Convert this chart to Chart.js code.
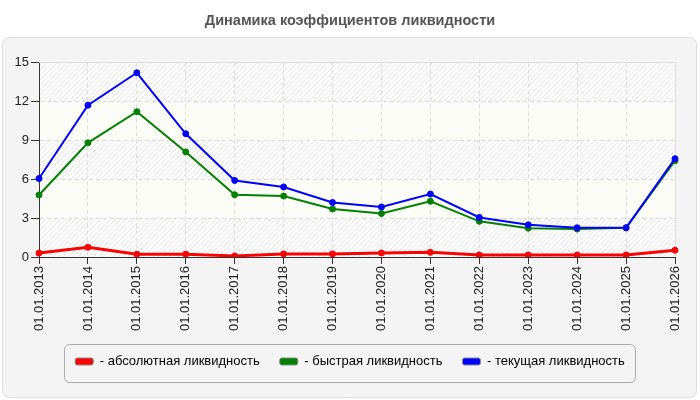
<!DOCTYPE html>
<html>
<head>
<meta charset="utf-8">
<script src="https://cdn.jsdelivr.net/npm/chart.js@4"></script>
<style>
body{margin:0;background:#fff;}
#wrap{width:700px;height:400px;}
</style>
</head>
<body>
<div id="wrap"><canvas id="liqChart"></canvas></div>
<script>
// даты отчётов
const dates = ['01.01.2013','01.01.2014','01.01.2015','01.01.2016','01.01.2017','01.01.2018','01.01.2019',
               '01.01.2020','01.01.2021','01.01.2022','01.01.2023','01.01.2024','01.01.2025','01.01.2026'];
const absLiq   = [0.3, 0.75, 0.22, 0.22, 0.08, 0.24, 0.24, 0.31, 0.36, 0.16, 0.16, 0.16, 0.16, 0.52];
const quickLiq = [4.78, 8.8, 11.2, 8.1, 4.8, 4.7, 3.7, 3.35, 4.3, 2.75, 2.22, 2.15, 2.25, 7.42];
const curLiq   = [6.05, 11.7, 14.2, 9.5, 5.9, 5.4, 4.2, 3.85, 4.85, 3.05, 2.48, 2.25, 2.25, 7.58];
const yTicks = [0, 3, 6, 9, 12, 15];
const seriesNames = ['- абсолютная ликвидность', '- быстрая ликвидность', '- текущая ликвидность'];
const seriesColors = ['rgb(255,0,0)', 'rgb(0,128,0)', 'rgb(0,0,255)'];

const FONT = "'Liberation Sans', Arial, sans-serif";

// штриховка для полос фона
const tile = document.createElement('canvas');
tile.width = 5; tile.height = 5;
const tc = tile.getContext('2d');
tc.fillStyle = '#ffffff';
tc.fillRect(0, 0, 5, 5);
tc.strokeStyle = '#e6e6e6';
tc.lineWidth = 1;
tc.beginPath();
tc.moveTo(0, 5); tc.lineTo(5, 0);
tc.moveTo(-1, 1); tc.lineTo(1, -1);
tc.moveTo(4, 6); tc.lineTo(6, 4);
tc.stroke();

const backdrop = {
    id: 'backdrop',
    afterLayout(chart){
        // заголовок и легенда центрированы по всей ширине
        [chart.legend, chart.titleBlock].forEach(b => {
            if(b){ b.left += 6; b.right += 6; }
        });
    },
    beforeDraw(chart){
        const ctx = chart.ctx, a = chart.chartArea, y = chart.scales.y;
        ctx.save();
        ctx.fillStyle = '#ffffff';
        ctx.fillRect(0, 0, chart.width, chart.height);
        ctx.beginPath();
        ctx.roundRect(2.5, 37.5, 694, 360, 7);
        ctx.fillStyle = '#f4f4f4';
        ctx.fill();
        ctx.strokeStyle = '#dddddd';
        ctx.lineWidth = 1;
        ctx.stroke();
        const hatch = ctx.createPattern(tile, 'repeat');
        for(let i = 0; i < yTicks.length - 1; i++){
            const top = y.getPixelForValue(yTicks[i+1]);
            const bot = y.getPixelForValue(yTicks[i]);
            ctx.fillStyle = (i % 2 === 0) ? hatch : '#fdfdf7';
            ctx.fillRect(a.left, top, a.right - a.left, bot - top);
        }
        ctx.restore();
    },
    beforeDatasetsDraw(chart){
        const ctx = chart.ctx, a = chart.chartArea;
        ctx.save();
        ctx.strokeStyle = '#dcdcdc';
        ctx.lineWidth = 1;
        ctx.beginPath();
        ctx.moveTo(a.left, Math.round(a.top) + 0.5);
        ctx.lineTo(Math.round(a.right) + 0.5, Math.round(a.top) + 0.5);
        ctx.lineTo(Math.round(a.right) + 0.5, a.bottom);
        ctx.stroke();
        ctx.restore();
    },
    afterDraw(chart){
        const boxes = chart.legend.legendHitBoxes;
        if(!boxes || !boxes.length) return;
        let l = Infinity, r = -Infinity, t = Infinity;
        boxes.forEach(b => {
            l = Math.min(l, b.left);
            r = Math.max(r, b.left + b.width);
            t = Math.min(t, b.top);
        });
        const ctx = chart.ctx;
        ctx.save();
        ctx.beginPath();
        ctx.roundRect(Math.round(l - 11) + 0.5, Math.round(t - 11) + 0.5, Math.round(r - l + 21), 38, 5);
        ctx.strokeStyle = '#aaaaaa';
        ctx.lineWidth = 1;
        ctx.stroke();
        ctx.restore();
    }
};

const lineData = [absLiq, quickLiq, curLiq];
const widths = [3, 2, 2];

const liqChart = new Chart(document.getElementById('liqChart'), {
    type: 'line',
    data: {
        labels: dates,
        datasets: lineData.map((vals, i) => ({
            label: seriesNames[i],
            data: vals,
            borderColor: seriesColors[i],
            backgroundColor: seriesColors[i],
            pointBackgroundColor: seriesColors[i],
            pointBorderColor: seriesColors[i],
            borderWidth: widths[i],
            pointRadius: 3,
            pointBorderWidth: 1,
            tension: 0,
            fill: false,
            order: 2 - i
        }))
    },
    options: {
        responsive: true,
        maintainAspectRatio: false,
        animation: false,
        layout: { padding: { left: 13, right: 25, top: 0, bottom: 22 } },
        plugins: {
            title: {
                display: true,
                text: 'Динамика коэффициентов ликвидности',
                color: '#555555',
                font: { family: FONT, size: 14.5, weight: 'bold' },
                padding: { top: 12, bottom: 33 }
            },
            legend: {
                position: 'bottom',
                labels: {
                    font: { family: FONT, size: 13 },
                    color: '#222222',
                    boxWidth: 18,
                    boxHeight: 7,
                    padding: 20,
                    useBorderRadius: true,
                    borderRadius: 2,
                    generateLabels: (chart) => chart.data.datasets.map((ds, i) => ({
                        text: ds.label,
                        fillStyle: ds.borderColor,
                        strokeStyle: '#888888',
                        lineWidth: 1,
                        borderRadius: 2,
                        hidden: false,
                        datasetIndex: i
                    }))
                }
            },
            tooltip: { enabled: false }
        },
        scales: {
            x: {
                afterFit: (s) => { s.height = 78; },
                ticks: {
                    minRotation: 90,
                    maxRotation: 90,
                    autoSkip: false,
                    padding: 2,
                    color: '#222222',
                    font: { family: FONT, size: 13 }
                },
                grid: {
                    color: '#dcdcdc',
                    tickColor: '#333333',
                    tickLength: 7,
                    tickBorderDash: []
                },
                border: { color: '#333333', dash: [4, 3] }
            },
            y: {
                min: 0,
                max: 15,
                afterFit: (s) => { s.width = 26; },
                afterBuildTicks: (s) => { s.ticks = yTicks.map(v => ({ value: v })); },
                ticks: {
                    padding: 2,
                    color: '#222222',
                    font: { family: FONT, size: 13 }
                },
                grid: {
                    color: '#dcdcdc',
                    tickColor: '#333333',
                    tickLength: 8,
                    tickBorderDash: []
                },
                border: { color: '#333333', dash: [4, 3] }
            }
        }
    },
    plugins: [backdrop]
});
</script>
</body>
</html>
